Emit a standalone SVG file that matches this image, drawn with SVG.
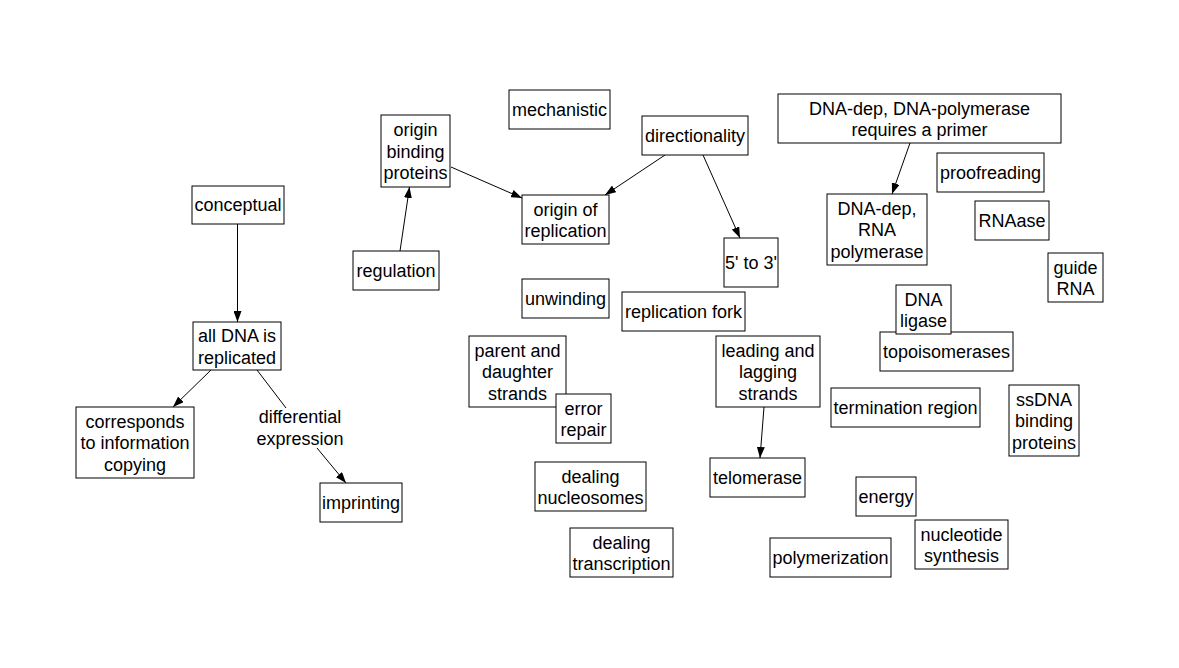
<svg xmlns="http://www.w3.org/2000/svg" width="1179" height="668" viewBox="0 0 1179 668">
<style>
rect.n{fill:#fff;stroke:#000;stroke-width:1}
text{font-family:"Liberation Sans",Arial,sans-serif;font-size:18px;fill:#000;text-anchor:middle}
.c line{stroke:#000;stroke-width:1}
</style>
<defs>
<marker id="ah" markerUnits="userSpaceOnUse" markerWidth="11" markerHeight="8" refX="11" refY="4" orient="auto">
<path d="M0,0 L11,4 L0,8 z" fill="#000"/>
</marker>
</defs>
<rect width="1179" height="668" fill="#fff"/>
<g class="c" id="connectors">
<line x1="237.5" y1="224" x2="237.5" y2="322" marker-end="url(#ah)"/>
<line x1="211" y1="370" x2="173" y2="407" marker-end="url(#ah)"/>
<line x1="257" y1="370" x2="286" y2="408"/>
<line x1="317" y1="448" x2="346" y2="483" marker-end="url(#ah)"/>
<line x1="400" y1="251" x2="409.5" y2="187" marker-end="url(#ah)"/>
<line x1="451" y1="167" x2="522" y2="198" marker-end="url(#ah)"/>
<line x1="665" y1="155" x2="605" y2="195" marker-end="url(#ah)"/>
<line x1="703" y1="155" x2="740" y2="238" marker-end="url(#ah)"/>
<line x1="910" y1="143" x2="892" y2="194" marker-end="url(#ah)"/>
<line x1="764" y1="407" x2="760" y2="458" marker-end="url(#ah)"/>
<text x="300" y="423">differential</text>
<text x="300" y="444.5">expression</text>
</g>
<g id="conceptual"><rect class="n" x="192" y="186" width="92" height="38"/><text x="238" y="211">conceptual</text></g>
<g id="alldna"><rect class="n" x="193" y="322" width="88" height="48"/><text x="237" y="342">all DNA is</text><text x="237" y="363.5">replicated</text></g>
<g id="corresponds"><rect class="n" x="76" y="407" width="118" height="71"/><text x="135" y="427.5">corresponds</text><text x="135" y="449">to information</text><text x="135" y="470.5">copying</text></g>
<g id="imprinting"><rect class="n" x="320" y="483" width="82" height="39"/><text x="361" y="509">imprinting</text></g>
<g id="regulation"><rect class="n" x="353" y="251" width="86" height="39"/><text x="396" y="277">regulation</text></g>
<g id="obp"><rect class="n" x="381" y="115" width="69" height="72"/><text x="415.5" y="136">origin</text><text x="415.5" y="157.5">binding</text><text x="415.5" y="179">proteins</text></g>
<g id="mechanistic"><rect class="n" x="509" y="90" width="101" height="39"/><text x="559.5" y="116">mechanistic</text></g>
<g id="origin"><rect class="n" x="522" y="195" width="87" height="49"/><text x="565.5" y="215.5">origin of</text><text x="565.5" y="237">replication</text></g>
<g id="directionality"><rect class="n" x="642" y="116" width="106" height="39"/><text x="695" y="142">directionality</text></g>
<g id="fivethree"><rect class="n" x="724" y="238" width="54" height="49"/><text x="751" y="268.5">5' to 3'</text></g>
<g id="dnapol"><rect class="n" x="778" y="94" width="283" height="49"/><text x="919.5" y="114.5">DNA-dep, DNA-polymerase</text><text x="919.5" y="136">requires a primer</text></g>
<g id="rnapol"><rect class="n" x="827" y="194" width="100" height="71"/><text x="877" y="214.5">DNA-dep,</text><text x="877" y="236">RNA</text><text x="877" y="257.5">polymerase</text></g>
<g id="proofreading"><rect class="n" x="937" y="153" width="107" height="39"/><text x="990.5" y="179">proofreading</text></g>
<g id="rnaase"><rect class="n" x="975" y="201" width="74" height="39"/><text x="1012" y="227">RNAase</text></g>
<g id="guide"><rect class="n" x="1048" y="253" width="55" height="49"/><text x="1075.5" y="273.5">guide</text><text x="1075.5" y="295">RNA</text></g>
<g id="unwinding"><rect class="n" x="522" y="279" width="87" height="39"/><text x="565.5" y="305">unwinding</text></g>
<g id="fork"><rect class="n" x="622" y="292" width="123" height="39"/><text x="683.5" y="318">replication fork</text></g>
<g id="parent"><rect class="n" x="469" y="336" width="97" height="71"/><text x="517.5" y="356.5">parent and</text><text x="517.5" y="378">daughter</text><text x="517.5" y="399.5">strands</text></g>
<g id="error"><rect class="n" x="556" y="394" width="55" height="49"/><text x="583.5" y="414.5">error</text><text x="583.5" y="436">repair</text></g>
<g id="leading"><rect class="n" x="716" y="336" width="104" height="71"/><text x="768" y="356.5">leading and</text><text x="768" y="378">lagging</text><text x="768" y="399.5">strands</text></g>
<g id="telomerase"><rect class="n" x="710" y="458" width="95" height="39"/><text x="757.5" y="484">telomerase</text></g>
<g id="nucleosomes"><rect class="n" x="535" y="462" width="111" height="49"/><text x="590.5" y="482.5">dealing</text><text x="590.5" y="504">nucleosomes</text></g>
<g id="transcription"><rect class="n" x="570" y="528" width="103" height="49"/><text x="621.5" y="548.5">dealing</text><text x="621.5" y="570">transcription</text></g>
<g id="topo"><rect class="n" x="880" y="332" width="133" height="39"/><text x="946.5" y="358">topoisomerases</text></g>
<g id="ligase"><rect class="n" x="896" y="285" width="55" height="49"/><text x="923.5" y="305.5">DNA</text><text x="923.5" y="327">ligase</text></g>
<g id="termination"><rect class="n" x="831" y="388" width="149" height="39"/><text x="905.5" y="414">termination region</text></g>
<g id="ssdna"><rect class="n" x="1009" y="385" width="70" height="71"/><text x="1044" y="405.5">ssDNA</text><text x="1044" y="427">binding</text><text x="1044" y="448.5">proteins</text></g>
<g id="energy"><rect class="n" x="856" y="477" width="60" height="39"/><text x="886" y="503">energy</text></g>
<g id="nucleotide"><rect class="n" x="915" y="520" width="93" height="49"/><text x="961.5" y="540.5">nucleotide</text><text x="961.5" y="562">synthesis</text></g>
<g id="polymerization"><rect class="n" x="770" y="538" width="121" height="39"/><text x="830.5" y="564">polymerization</text></g>
</svg>
